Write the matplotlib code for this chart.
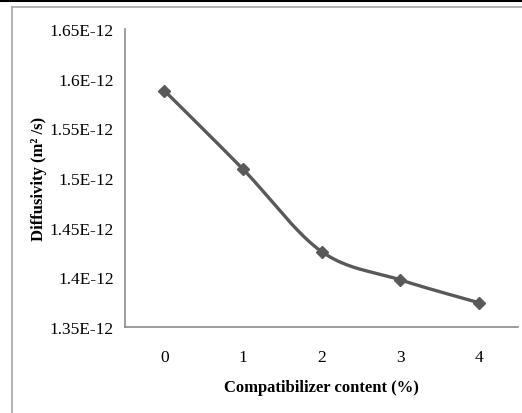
import numpy as np
import matplotlib
matplotlib.use("Agg")
import matplotlib.pyplot as plt
from matplotlib.lines import Line2D

# data
content = [0, 1, 2, 3, 4]
diffusivity = [1.588e-12, 1.509e-12, 1.426e-12, 1.3975e-12, 1.3745e-12]
y_ticks = [1.35e-12, 1.40e-12, 1.45e-12, 1.50e-12, 1.55e-12, 1.60e-12, 1.65e-12]
y_tick_labels = ["1.35E-12", "1.4E-12", "1.45E-12", "1.5E-12", "1.55E-12", "1.6E-12", "1.65E-12"]


def smooth(xs, ys, n=40):
    """Excel-style smoothed line: Catmull-Rom through the points."""
    xs = np.asarray(xs, float)
    ys = np.asarray(ys, float)
    px = np.concatenate([[xs[0]], xs, [xs[-1]]])
    py = np.concatenate([[ys[0]], ys, [ys[-1]]])
    out_x, out_y = [], []
    t = np.linspace(0, 1, n)
    for i in range(1, len(px) - 2):
        p0 = np.array([px[i], py[i]])
        p3 = np.array([px[i + 1], py[i + 1]])
        c1 = p0 + (np.array([px[i + 1], py[i + 1]]) - np.array([px[i - 1], py[i - 1]])) / 6
        c2 = p3 - (np.array([px[i + 2], py[i + 2]]) - np.array([px[i], py[i]])) / 6
        b = ((1 - t) ** 3)[:, None] * p0 + (3 * (1 - t) ** 2 * t)[:, None] * c1 \
            + (3 * (1 - t) * t ** 2)[:, None] * c2 + (t ** 3)[:, None] * p3
        out_x.extend(b[:, 0])
        out_y.extend(b[:, 1])
    return np.array(out_x), np.array(out_y)


plt.rcParams["font.family"] = ["Liberation Serif", "DejaVu Serif"]

W, H = 522, 414
fig = plt.figure(figsize=(W / 100, H / 100), dpi=100)
ax = fig.add_axes([125 / W, 1 - 328 / H, (518 - 125) / W, (328 - 30) / H])

line_col = "#595959"
sx, sy = smooth(content, diffusivity)
ax.plot(sx, sy, color=line_col, linewidth=2.4, solid_capstyle="round")
ax.plot(content, diffusivity, linestyle="none", marker="D", markersize=6.5,
        color=line_col)

ax.set_xlim(-0.5, 4.5)
ax.set_ylim(1.35e-12, 1.65e-12)
ax.set_xticks(content)
ax.set_xticklabels([str(c) for c in content], fontsize=12.5)
ax.set_yticks(y_ticks)
ax.set_yticklabels(y_tick_labels, fontsize=12.5)
ax.tick_params(axis="x", length=0, pad=16)
ax.tick_params(axis="y", length=0, pad=8)

for side in ["top", "right"]:
    ax.spines[side].set_visible(False)
for side in ["left", "bottom"]:
    ax.spines[side].set_color("#8c8c8c")
    ax.spines[side].set_linewidth(1.2)

ax.set_xlabel("Compatibilizer content (%)", fontsize=12, fontweight="bold", labelpad=10)
ax.set_ylabel("Diffusivity (m² /s)", fontsize=12, fontweight="bold", labelpad=2)

# frame lines of the original screenshot
fig.add_artist(Line2D([0, 1], [1 - 1 / H, 1 - 1 / H], color="black", linewidth=2.2))
fig.add_artist(Line2D([11.5 / W, 1], [1 - 7.5 / H, 1 - 7.5 / H], color="#a6a6a6", linewidth=1.2))
fig.add_artist(Line2D([11.5 / W, 11.5 / W], [0, 1 - 7.5 / H], color="#a6a6a6", linewidth=1.2))

fig.savefig("out.png", dpi=100)
